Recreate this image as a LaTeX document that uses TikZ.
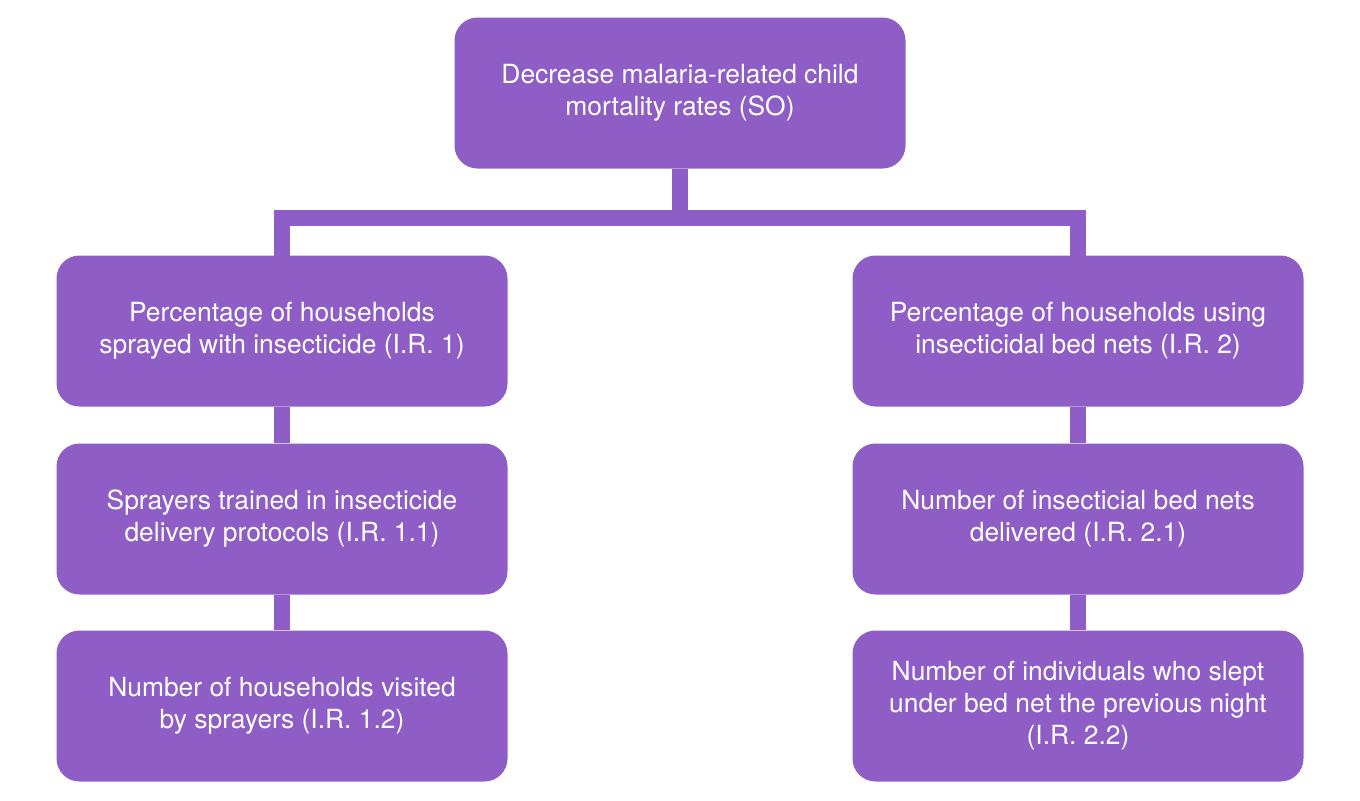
\documentclass[tikz,border=0pt]{standalone}
\usepackage{fontspec}
\setmainfont{TeX Gyre Heros}
\usepackage{tikz}
\usetikzlibrary{calc}
\definecolor{plum}{HTML}{8E5EC6}

\begin{document}
\begin{tikzpicture}[x=0.5pt,y=-0.5pt,
  goalbox/.style={fill=plum,draw=none,rounded corners=11.5pt,text=white,align=center,
    minimum width=225.5pt,minimum height=75.5pt,inner sep=0pt,
    font=\fontsize{13.2}{16}\selectfont},
  link/.style={plum,line width=8pt}]
  \useasboundingbox (0,0) rectangle (1360,800);
  % Strategic objective
  \node[goalbox] (so) at (680,93) {Decrease malaria-related child\\mortality rates (SO)};
  % Intermediate results, left branch
  \node[goalbox] (ir1) at (282,331) {Percentage of households\\sprayed with insecticide (I.R. 1)};
  \node[goalbox] (ir11) at (282,519) {Sprayers trained in insecticide\\delivery protocols (I.R. 1.1)};
  \node[goalbox] (ir12) at (282,706) {Number of households visited\\by sprayers (I.R. 1.2)};
  % Intermediate results, right branch
  \node[goalbox] (ir2) at (1078,331) {Percentage of households using\\insecticidal bed nets (I.R. 2)};
  \node[goalbox] (ir21) at (1078,519) {Number of insecticial bed nets\\delivered (I.R. 2.1)};
  \node[goalbox] (ir22) at (1078,706) {Number of individuals who slept\\under bed net the previous night\\(I.R. 2.2)};
  % Connectors
  \coordinate (bar) at (680,218);
  \draw[link] (so.south) -- (bar);
  \draw[link,line cap=rect] (ir1.north) |- (bar) -| (ir2.north);
  \draw[link] (ir1) -- (ir11);
  \draw[link] (ir11) -- (ir12);
  \draw[link] (ir2) -- (ir21);
  \draw[link] (ir21) -- (ir22);
\end{tikzpicture}
\end{document}
